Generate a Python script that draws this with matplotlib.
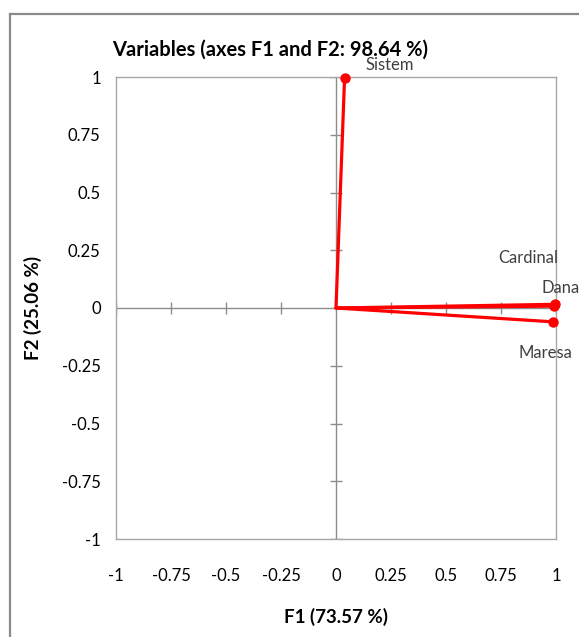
import matplotlib
matplotlib.use("Agg")
import matplotlib.pyplot as plt
from matplotlib.lines import Line2D

plt.rcParams['font.family'] = ['Lato', 'DejaVu Sans']

variables = ["Sistem", "Cardinal", "Dana", "Maresa"]
f1 = [0.039, 0.990, 0.996, 0.988]
f2 = [0.997, 0.008, 0.016, -0.060]
ticks = [-1, -0.75, -0.5, -0.25, 0, 0.25, 0.5, 0.75, 1]
tick_labels = ["-1", "-0.75", "-0.5", "-0.25", "0", "0.25", "0.5", "0.75", "1"]
title = "Variables (axes F1 and F2: 98.64 %)"
xlabel = "F1 (73.57 %)"
ylabel = "F2 (25.06 %)"

# label offsets in pixels (dx, dy, ha)
label_offsets = {
    "Sistem": (45, 13, "center"),
    "Cardinal": (-26, 48, "center"),
    "Dana": (-14, 16, "left"),
    "Maresa": (-8, -31, "center"),
}

W, H = 579, 637
fig = plt.figure(figsize=(W / 100, H / 100), dpi=100)
fig.patch.set_facecolor("white")

# outer chart border
fig.add_artist(Line2D([10 / W, 10 / W], [0, 1 - 14 / H], color="#8a8a8a", lw=1.6, transform=fig.transFigure))
fig.add_artist(Line2D([10 / W, 1], [1 - 14 / H, 1 - 14 / H], color="#8a8a8a", lw=1.6, transform=fig.transFigure))

ax = fig.add_axes([116 / W, 1 - 539 / H, 440 / W, 462 / H])
ax.set_xlim(-1, 1)
ax.set_ylim(-1, 1)
for s in ax.spines.values():
    s.set_color("#a6a6a6")
    s.set_linewidth(1.0)

ax.set_xticks(ticks)
ax.set_xticklabels(tick_labels)
ax.set_yticks(ticks)
ax.set_yticklabels(tick_labels)
ax.tick_params(axis="x", length=0, pad=21, labelsize=12, colors="#000000")
ax.tick_params(axis="y", length=0, pad=11, labelsize=12, colors="#000000")

# zero axes with cross ticks
ax.axhline(0, color="#8c8c8c", lw=1.0, zorder=1)
ax.axvline(0, color="#8c8c8c", lw=1.0, zorder=1)
tk = [t for t in ticks if t not in (0,)]
ax.plot(tk, [0] * len(tk), linestyle="none", marker="|", markersize=9, color="#8c8c8c", mew=1.0, zorder=1)
ax.plot([0] * len(tk), tk, linestyle="none", marker="_", markersize=9, color="#8c8c8c", mew=1.0, zorder=1)

for name, x, y in zip(variables, f1, f2):
    ax.plot([0, x], [0, y], color="#ff0000", lw=2.3, zorder=3, solid_capstyle="round")
    ax.plot([x], [y], marker="o", color="#ff0000", markersize=6.5, zorder=4, clip_on=False)
    dx, dy, ha = label_offsets[name]
    ax.annotate(name, (x, y), xytext=(dx * 0.72, dy * 0.72), textcoords="offset points",
                ha=ha, va="center", fontsize=12, color="#404040", annotation_clip=False, zorder=5)

fig.text(270 / W, 1 - 50 / H, title, ha="center", va="center", fontsize=14.5, fontweight="bold")
fig.text(336 / W, 1 - 617 / H, xlabel, ha="center", va="center", fontsize=13.5, fontweight="bold")
fig.text(33 / W, 1 - 308 / H, ylabel, ha="center", va="center", fontsize=13.5, fontweight="bold", rotation=90)

fig.savefig("out.png", dpi=100, facecolor="white")
